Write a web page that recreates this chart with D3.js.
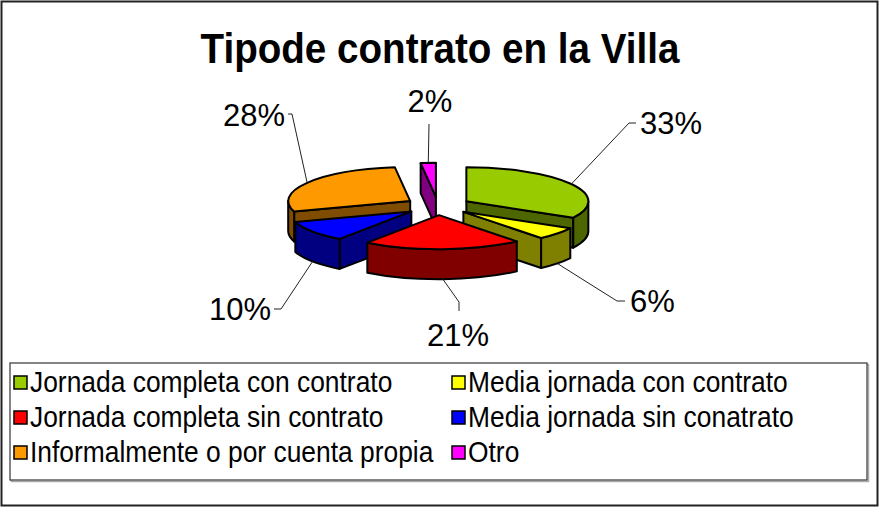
<!DOCTYPE html>
<html>
<head>
<meta charset="utf-8">
<script src="https://cdn.jsdelivr.net/npm/d3@7"></script>
<style>
  body { margin: 0; background: #fff; }
  text { font-family: "Liberation Sans", Arial, sans-serif; }
</style>
</head>
<body>
<script>
const categories = [
  "Jornada completa con contrato",
  "Media jornada con contrato",
  "Jornada completa sin contrato",
  "Media jornada sin conatrato",
  "Informalmente o por cuenta propia",
  "Otro"
];
const values = [33, 6, 21, 10, 28, 2];
const valueLabels = ["33%", "6%", "21%", "10%", "28%", "2%"];
const topColors = ["#99CC00", "#FFFF00", "#FF0000", "#0000FF", "#FF9900", "#FF00FF"];
const sideColors = ["#4D6600", "#808000", "#800000", "#000080", "#804C00", "#800080"];

const width = 879;
const height = 507;

const svg = d3.select("body")
  .append("svg")
    .attr("width", width)
    .attr("height", height);

// chart border
svg.append("rect")
    .attr("x", 1.5).attr("y", 1.5)
    .attr("width", width - 3).attr("height", height - 3)
    .attr("fill", "#fff")
    .attr("stroke", "#222")
    .attr("stroke-width", 2);

// title (the original is slightly stretched vertically)
svg.append("text")
    .attr("transform", "translate(440,63) scale(1,1.12)")
    .attr("text-anchor", "middle")
    .attr("font-size", 38.6)
    .attr("font-weight", "bold")
    .text("Tipode contrato en la Villa");

// 3D pie geometry
const cx = 438, cy = 206, rx = 122, ry = 34, depth = 30, explode = 0.27;
const sx = d3.scaleLinear().domain([-1, 1]).range([cx - rx, cx + rx]);
const sy = d3.scaleLinear().domain([-1, 1]).range([cy + ry, cy - ry]);

const arcs = d3.pie().sort(null).value(d => d)(values);

function offset(a) {
  const m = (a.startAngle + a.endAngle) / 2;
  return [explode * Math.sin(m), explode * Math.cos(m)];
}
function pt(a, t, r, z) {
  const o = offset(a);
  return [sx(o[0] + r * Math.sin(t)), sy(o[1] + r * Math.cos(t)) + z];
}
function arcCmd(p, large, sweep) {
  return `A${rx},${ry} 0 ${large} ${sweep} ${p[0]},${p[1]}`;
}

const faces = [];
const tops = [];
arcs.forEach((a, i) => {
  const o = offset(a);
  const c = pt(a, 0, 0, 0);
  const s = pt(a, a.startAngle, 1, 0);
  const e = pt(a, a.endAngle, 1, 0);
  const large = a.endAngle - a.startAngle > Math.PI ? 1 : 0;
  tops.push({
    d: `M${c}L${s}${arcCmd(e, large, 1)}Z`,
    fill: topColors[i]
  });

  // radial side faces
  [[a.startAngle, Math.sin(a.startAngle) < -1e-6], [a.endAngle, Math.sin(a.endAngle) > 1e-6]]
    .forEach(([t, visible]) => {
      if (!visible) return;
      const p0 = pt(a, 0, 0, 0), p1 = pt(a, t, 1, 0), p2 = pt(a, t, 1, depth), p3 = pt(a, 0, 0, depth);
      faces.push({
        d: `M${p0}L${p1}L${p2}L${p3}Z`,
        fill: sideColors[i],
        key: o[1] + 0.5 * Math.cos(t)
      });
    });

  // outer wall on the front half
  const w0 = Math.max(a.startAngle, Math.PI / 2);
  const w1 = Math.min(a.endAngle, Math.PI * 1.5);
  if (w1 > w0) {
    const t0 = pt(a, w0, 1, 0), t1 = pt(a, w1, 1, 0);
    const b0 = pt(a, w0, 1, depth), b1 = pt(a, w1, 1, depth);
    faces.push({
      d: `M${t0}${arcCmd(t1, 0, 1)}L${b1}${arcCmd(b0, 0, 0)}Z`,
      fill: sideColors[i],
      key: o[1] + Math.cos((w0 + w1) / 2)
    });
  }
});

faces.sort((p, q) => q.key - p.key);

svg.append("g")
  .selectAll("path")
  .data(faces.concat(tops))
  .join("path")
    .attr("d", d => d.d)
    .attr("fill", d => d.fill)
    .attr("stroke", "#000")
    .attr("stroke-width", 2)
    .attr("stroke-linejoin", "round");

// data labels with leader lines
// leader: from slice edge to elbow, then a short stub; elbow given relative to pie centre
const leaderElbow = [[191, -83], [179, 95], [21, 96], [-157, 103], [-146, -92], [-9, -82]];
const leaderStub = [[7, 0], [8, 0], [0, 9], [-7, 0], [-4, 0], [0, 0]];
const labelAnchor = ["start", "start", "middle", "end", "end", "middle"];
const labelShift = [[4, 11], [5, 11], [-1, 44], [-3, 11], [-3, 12], [1, -12]];

const labels = svg.append("g");
arcs.forEach((a, i) => {
  const m = (a.startAngle + a.endAngle) / 2;
  const front = Math.cos(m) < 0;
  const start = pt(a, m, 1, front ? depth : 0);
  const elbow = [cx + leaderElbow[i][0], cy + leaderElbow[i][1]];
  const end = [elbow[0] + leaderStub[i][0], elbow[1] + leaderStub[i][1]];
  labels.append("path")
      .attr("d", `M${start}L${elbow}L${end}`)
      .attr("fill", "none")
      .attr("stroke", "#222")
      .attr("stroke-width", 1);
  labels.append("text")
      .attr("x", end[0] + labelShift[i][0])
      .attr("y", (i === 2 ? elbow[1] : end[1]) + labelShift[i][1])
      .attr("text-anchor", labelAnchor[i])
      .attr("font-size", 31)
      .text(valueLabels[i]);
});

// legend
const legX = 10, legY = 363, legW = 857, legH = 117;
svg.append("rect")
    .attr("x", legX + 1.5).attr("y", legY + 1.5)
    .attr("width", legW).attr("height", legH)
    .attr("fill", "none")
    .attr("stroke", "#aaa")
    .attr("stroke-width", 1.5);
svg.append("rect")
    .attr("x", legX).attr("y", legY)
    .attr("width", legW).attr("height", legH)
    .attr("fill", "#fff")
    .attr("stroke", "#333")
    .attr("stroke-width", 1.2);

const colX = d3.scaleOrdinal().domain([0, 1]).range([14, 452]);
const rowY = d3.scalePoint().domain([0, 1, 2]).range([382, 452]);

const items = svg.append("g")
  .selectAll("g")
  .data(categories)
  .join("g")
    .attr("transform", (d, i) => `translate(${colX(i % 2)},${rowY(Math.floor(i / 2))})`);

items.append("rect")
    .attr("x", 0).attr("y", -6)
    .attr("width", 13).attr("height", 13)
    .attr("fill", (d, i) => topColors[i])
    .attr("stroke", "#000")
    .attr("stroke-width", 1.5);

items.append("text")
    .attr("transform", "translate(16,10) scale(1,1.12)")
    .attr("font-size", 26.4)
    .text(d => d);
</script>
</body>
</html>
